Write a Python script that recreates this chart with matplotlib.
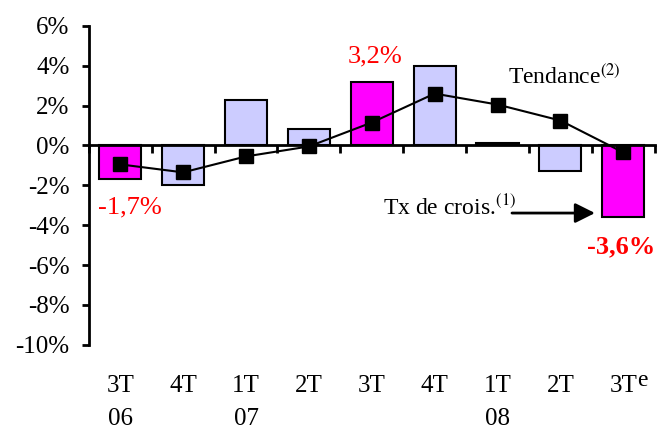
import numpy as np
import matplotlib.pyplot as plt

# quarters
quarters = ['3T', '4T', '1T', '2T', '3T', '4T', '1T', '2T', '3T']
years = ['06', '', '07', '', '', '', '08', '', '']
growth = [-1.7, -2.0, 2.3, 0.8, 3.2, 4.0, 0.1, -1.3, -3.6]
trend = [-0.95, -1.35, -0.55, -0.05, 1.15, 2.6, 2.05, 1.25, -0.35]
highlight = [True, False, False, False, True, False, False, False, True]

plt.rcParams['font.family'] = ['Liberation Serif', 'DejaVu Serif']

fig = plt.figure(figsize=(6.58, 4.3), dpi=100)
ax = fig.add_axes([0.135, 0.198, 0.86, 0.742])

x = np.arange(len(growth))
colors = ['#FF00FF' if h else '#CCCCFF' for h in highlight]
ax.bar(x, growth, width=0.67, color=colors, edgecolor='black', linewidth=1.5, zorder=2)
ax.plot(x, trend, color='black', linewidth=1.5, marker='s', markersize=10, zorder=3)

ax.set_ylim(-10, 6)
ax.set_xlim(-0.5, len(growth) - 0.5)
ax.set_yticks(range(-10, 7, 2))
ax.set_yticklabels([f'{v}%' for v in range(-10, 7, 2)], fontsize=18)

# x axis at zero with boundary ticks
for s in ['top', 'right']:
    ax.spines[s].set_visible(False)
ax.spines['bottom'].set_position(('data', 0))
ax.spines['left'].set_linewidth(2)
ax.spines['bottom'].set_linewidth(2)
ax.set_xticks(np.arange(len(growth) + 1) - 0.5)
ax.set_xticklabels([])
ax.tick_params(axis='x', direction='out', length=6, width=2)
ax.tick_params(axis='y', direction='out', length=5, width=2, pad=9)

# category labels under the plot
for i, (q, yr) in enumerate(zip(quarters, years)):
    ax.text(i, -11.5, q, ha='center', va='top', fontsize=18, clip_on=False)
    if yr:
        ax.text(i, -13.15, yr, ha='center', va='top', fontsize=18, clip_on=False)
ax.text(8.22, -11.25, 'e', ha='left', va='top', fontsize=17, clip_on=False)

# value labels
ax.text(0.15, -3.39, '-1,7%', color='red', ha='center', va='baseline', fontsize=19)
ax.text(4.05, 4.14, '3,2%', color='red', ha='center', va='baseline', fontsize=19)
ax.text(7.96, -5.39, '-3,6%', color='red', ha='center', va='baseline', fontsize=19,
        fontweight='bold')

ax.text(6.17, 3.08, r'Tendance$^{(2)}$', ha='left', va='baseline', fontsize=17,
        math_fontfamily='stix')
ax.text(4.18, -3.49, r'Tx de crois.$^{(1)}$', ha='left', va='baseline', fontsize=17,
        math_fontfamily='stix')
ax.annotate('', xy=(7.55, -3.39), xytext=(6.23, -3.39),
            arrowprops=dict(arrowstyle='-|>,head_length=0.6,head_width=0.3',
                            color='black', lw=2, mutation_scale=20,
                            shrinkA=0, shrinkB=0))

fig.savefig('out.png', dpi=100)
plt.close(fig)
